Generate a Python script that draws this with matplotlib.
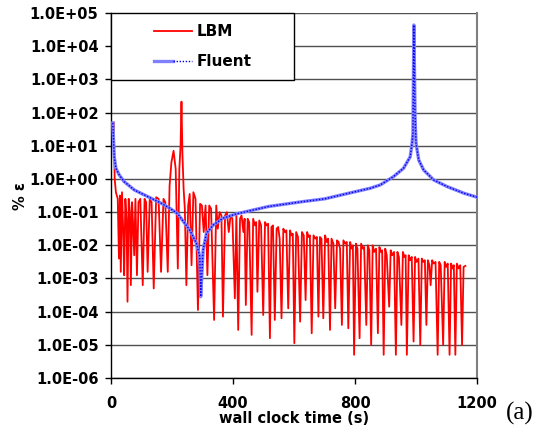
import numpy as np
import matplotlib
matplotlib.use("Agg")
import matplotlib.pyplot as plt
from matplotlib.patches import Rectangle
from matplotlib.legend_handler import HandlerTuple
from matplotlib.ticker import FuncFormatter, FixedLocator

# LBM error (%): time (s) and log10 of value
lbm_t = [9, 10, 12, 16, 22, 26, 29, 32, 36, 40, 43, 47, 51, 54, 58, 62, 65, 69, 72, 76,
         80, 85, 90, 96, 104, 110, 115, 120, 127, 133, 140, 148, 156, 164, 172, 178, 186,
         192, 198, 205, 212, 219, 224, 228, 231, 234, 238, 242, 247, 253, 258, 264, 270,
         277, 285, 292, 298, 304, 310, 316, 322, 328, 338, 345, 350, 356, 362, 367, 374,
         380, 386, 392, 398, 406, 411, 417, 423, 428, 434, 438, 442, 448, 453, 461, 466,
         472, 476, 480, 486, 492, 499, 505, 510, 515, 521, 526, 531, 537, 543, 548, 553,
         559, 565, 570, 575, 581, 587, 592, 596, 601, 607, 613, 620, 626, 632, 638, 643,
         648, 652, 658, 664, 670, 675, 680, 685, 690, 696, 702, 707, 712, 718, 723, 729,
         735, 741, 746, 751, 757, 762, 768, 773, 778, 784, 789, 793, 797, 803, 808, 815,
         820, 826, 830, 837, 842, 847, 853, 858, 863, 869, 875, 880, 885, 889, 894, 899,
         904, 912, 917, 922, 928, 934, 939, 944, 952, 957, 962, 966, 970, 976, 981, 986,
         992, 997, 1002, 1008, 1014, 1019, 1024, 1029, 1034, 1039, 1044, 1048, 1053, 1058,
         1064, 1071, 1076, 1081, 1089, 1094, 1099, 1104, 1110, 1115, 1120, 1124, 1129,
         1134, 1140, 1145, 1151, 1156, 1162]
lbm_log = [1.7, 1.0, 0.0, -0.4, -0.6, -2.4, -0.5, -2.8, -0.4, -1.6, -2.9, -0.6, -1.2, -3.7,
           -0.6, -1.0, -3.2, -0.7, -1.3, -2.3, -0.6, -2.9, -0.7, -0.6, -3.2, -0.6, -0.7,
           -2.8, -0.6, -0.7, -3.3, -0.55, -0.6, -2.8, -0.6, -0.7, -2.8, -0.2, 0.5, 0.85,
           0.3, -2.7, 0.3, 1.0, 2.33, 0.8, -0.3, -0.9, -3.2, -0.8, -0.45, -2.6, -0.4, -0.6,
           -3.95, -0.75, -0.8, -1.6, -0.8, -2.9, -0.8, -0.9, -4.25, -0.8, -1.5, -1.0, -1.1,
           -4.15, -1.1, -1.0, -1.6, -1.1, -1.2, -3.6, -1.1, -4.55, -1.2, -1.1, -1.6, -1.2,
           -3.8, -1.2, -1.3, -4.7, -1.2, -1.4, -1.3, -3.4, -1.25, -1.4, -4.1, -1.3, -1.4,
           -1.35, -4.8, -1.45, -1.4, -4.25, -1.5, -1.45, -1.8, -4.2, -1.5, -1.6, -1.55,
           -3.9, -1.55, -1.7, -1.65, -4.95, -1.6, -1.75, -4.3, -1.6, -1.7, -3.65, -1.6,
           -1.75, -1.7, -4.65, -1.7, -1.8, -1.75, -4.15, -1.75, -1.8, -4.2, -1.7, -1.9,
           -1.8, -4.55, -1.8, -1.95, -3.9, -1.85, -1.9, -2.1, -4.4, -1.85, -1.95, -1.9,
           -4.5, -1.9, -2.1, -2.0, -5.3, -1.95, -2.1, -4.8, -1.95, -2.1, -2.05, -4.4, -2.0,
           -2.15, -5.0, -2.0, -2.2, -2.1, -4.65, -2.05, -2.2, -2.15, -5.3, -2.1, -2.3,
           -3.85, -2.15, -2.3, -2.2, -5.3, -2.2, -2.35, -4.4, -2.2, -2.35, -2.3, -5.3, -2.3,
           -2.45, -2.35, -4.9, -2.35, -2.5, -2.4, -5.0, -2.4, -2.5, -2.45, -4.4, -2.45,
           -2.6, -3.2, -2.45, -2.55, -2.5, -5.3, -2.5, -2.6, -5.0, -2.5, -2.65, -2.55, -5.3,
           -2.55, -2.7, -2.6, -5.3, -2.55, -2.7, -2.6, -5.0, -2.65, -2.62]

# Fluent error (%): time (s) and log10 of value
fluent_t = [6, 10.5, 16, 27, 43, 76, 120, 164, 192, 219, 225, 258, 280, 291, 294, 302, 313,
            335, 368, 412, 516, 631, 700, 784, 850, 883, 926, 959, 981, 987, 990, 993, 997,
            1000, 1009, 1025, 1058, 1102, 1157, 1200]
fluent_log = [1.69, 0.67, 0.32, 0.12, -0.08, -0.33, -0.53, -0.73, -0.88, -1.05, -1.13,
              -1.54, -1.94, -2.34, -3.55, -2.14, -1.64, -1.39, -1.18, -1.05, -0.83, -0.68,
              -0.6, -0.42, -0.28, -0.18, 0.07, 0.32, 0.67, 1.07, 1.38, 4.64, 1.88, 1.08,
              0.57, 0.27, -0.03, -0.23, -0.43, -0.55]

y_ticks = [1e-6, 1e-5, 1e-4, 1e-3, 1e-2, 1e-1, 1e0, 1e1, 1e2, 1e3, 1e4, 1e5]
x_ticks = [0, 400, 800, 1200]

plt.rcParams['font.family'] = 'DejaVu Sans'
plt.rcParams['font.weight'] = 'bold'

fig = plt.figure(figsize=(5.51, 4.36), dpi=100)
ax = fig.add_axes([0.2015, 0.133, 0.6642, 0.837])

ax.set_yscale('log')
ax.set_xlim(0, 1200)
ax.set_ylim(1e-6, 1e5)

for yv in y_ticks:
    ax.axhline(yv, color='#505050', lw=1.0, zorder=1)

red, = ax.plot(lbm_t, 10 ** np.array(lbm_log), color='#ff0000', lw=1.3, zorder=3)
blue_bg, = ax.plot(fluent_t, 10 ** np.array(fluent_log), color='#8080ff', lw=2.4, zorder=4)
blue_fg, = ax.plot(fluent_t, 10 ** np.array(fluent_log), color='#0000ee', lw=1.0,
                   dashes=(1, 1.2), zorder=5)

ax.yaxis.set_major_locator(FixedLocator(y_ticks))
ax.yaxis.set_minor_locator(FixedLocator([]))
ax.yaxis.set_major_formatter(FuncFormatter(lambda v, _: f"{v:.1E}"))
ax.set_xticks(x_ticks)
ax.tick_params(axis='both', direction='out', length=4, width=1, labelsize=10.5, pad=5)
ax.tick_params(axis='x', pad=9)

ax.spines['top'].set_visible(False)
ax.spines['right'].set_color('#808080')
ax.spines['right'].set_linewidth(1.5)
for s in ['left', 'bottom']:
    ax.spines[s].set_linewidth(1.0)

ax.set_xlabel('wall clock time (s)', fontsize=10.5, fontweight='bold', labelpad=0)
ax.set_ylabel('% ε', fontsize=10.5, fontweight='bold', labelpad=1)

ax.add_patch(Rectangle((0, 0.816), 0.5, 0.184, transform=ax.transAxes,
                       facecolor='white', edgecolor='black', lw=1.0, zorder=6,
                       clip_on=False))
leg = ax.legend([red, (blue_bg, blue_fg)], ['LBM', 'Fluent'],
                handler_map={tuple: HandlerTuple(ndivide=None, pad=0)},
                loc='center', bbox_to_anchor=(0.25, 0.908), frameon=False,
                prop={'size': 11, 'weight': 'bold'}, handlelength=2.5,
                handletextpad=0.3, labelspacing=0.95)
leg.set_zorder(7)

fig.text(0.943, 0.052, '(a)', fontsize=18, family='Liberation Serif',
         fontweight='normal', ha='center', va='center')

fig.savefig('out.png', dpi=100)
